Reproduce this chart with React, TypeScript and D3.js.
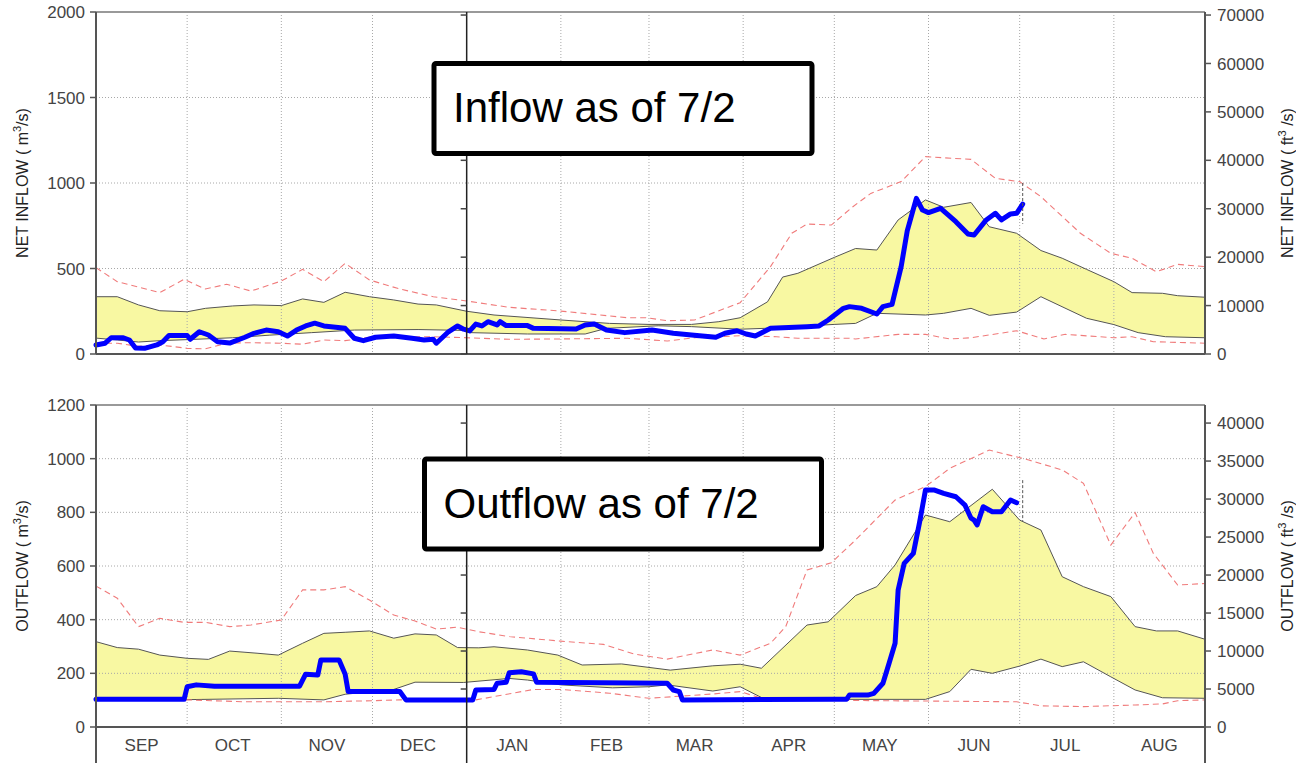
import React from 'react';
import * as d3 from 'd3';

type Pt = [string, number];

const months = ['SEP', 'OCT', 'NOV', 'DEC', 'JAN', 'FEB', 'MAR', 'APR', 'MAY', 'JUN', 'JUL', 'AUG'];
const inflowTicks = [0, 500, 1000, 1500, 2000];
const inflowCfsTicks = [0, 10000, 20000, 30000, 40000, 50000, 60000, 70000];
const outflowTicks = [0, 200, 400, 600, 800, 1000, 1200];
const outflowCfsTicks = [0, 5000, 10000, 15000, 20000, 25000, 30000, 35000, 40000];
const CFS = 35.3147;
const asOf = '07/02';

// NET INFLOW (m3/s)
const inflowUpper: Pt[] = [
  ['09/01', 335], ['09/08', 335], ['09/15', 287], ['09/22', 253], ['10/01', 247], ['10/07', 267],
  ['10/16', 281], ['10/23', 287], ['11/01', 283], ['11/08', 322], ['11/15', 302], ['11/22', 361],
  ['11/30', 335], ['12/08', 316], ['12/16', 292], ['12/22', 287], ['01/01', 250], ['01/10', 228],
  ['02/01', 199], ['02/17', 179], ['03/01', 173], ['03/15', 173], ['03/24', 189], ['03/31', 212],
  ['04/09', 305], ['04/14', 450], ['04/19', 472], ['05/01', 565], ['05/08', 617], ['05/15', 608],
  ['05/22', 784], ['05/31', 901], ['06/06', 858], ['06/15', 886], ['06/21', 744], ['06/30', 706],
  ['07/08', 605], ['07/15', 560], ['07/23', 495], ['08/01', 423], ['08/07', 359], ['08/17', 355],
  ['08/22', 341], ['08/31', 332],
];
const inflowLower: Pt[] = [
  ['09/01', 93], ['09/08', 82], ['09/15', 70], ['09/22', 78], ['10/01', 84], ['10/16', 95],
  ['10/28', 110], ['11/11', 125], ['11/25', 140], ['12/16', 143], ['12/31', 138], ['01/02', 125],
  ['01/21', 117], ['02/09', 117], ['02/16', 150], ['03/04', 165], ['03/15', 160], ['03/31', 145],
  ['04/08', 150], ['05/01', 173], ['05/08', 179], ['05/15', 238], ['05/31', 228], ['06/06', 238],
  ['06/15', 267], ['06/21', 226], ['06/30', 245], ['07/08', 335], ['07/23', 209], ['08/01', 172],
  ['08/09', 125], ['08/18', 101], ['08/31', 95],
];
const inflowMax: Pt[] = [
  ['09/01', 505], ['09/08', 423], ['09/22', 359], ['09/30', 437], ['10/07', 380], ['10/14', 408],
  ['10/22', 368], ['11/01', 427], ['11/08', 495], ['11/15', 423], ['11/22', 530], ['11/30', 433],
  ['12/10', 380], ['12/21', 335], ['01/01', 310], ['01/15', 273], ['02/01', 251], ['02/23', 212],
  ['02/29', 212], ['03/07', 195], ['03/16', 199], ['03/31', 300], ['04/10', 511], ['04/17', 706],
  ['04/22', 760], ['04/30', 754], ['05/07', 860], ['05/13', 939], ['05/23', 1008], ['05/31', 1154],
  ['06/15', 1138], ['06/23', 1027], ['07/01', 1008], ['07/08', 920], ['07/21', 706], ['07/31', 589],
  ['08/07', 560], ['08/15', 481], ['08/22', 524], ['08/31', 511],
];
const inflowMin: Pt[] = [
  ['09/01', 63], ['09/08', 63], ['09/15', 45], ['09/22', 53], ['10/01', 33], ['10/07', 30],
  ['10/14', 63], ['10/21', 66], ['11/01', 63], ['11/08', 57], ['11/15', 82], ['11/22', 78],
  ['11/30', 98], ['12/08', 101], ['12/21', 101], ['01/01', 95], ['01/15', 86], ['02/01', 88],
  ['02/23', 92], ['03/07', 76], ['03/16', 95], ['03/24', 101], ['03/31', 107], ['04/12', 101],
  ['04/19', 92], ['05/06', 92], ['05/08', 88], ['05/22', 115], ['05/31', 115], ['06/08', 88],
  ['06/15', 95], ['06/30', 136], ['07/09', 88], ['07/16', 115], ['08/01', 95], ['08/07', 101],
  ['08/14', 72], ['08/31', 63],
];
const inflowObs: Pt[] = [
  ['09/01', 53], ['09/04', 63], ['09/06', 95], ['09/10', 95], ['09/12', 82], ['09/14', 35],
  ['09/17', 33], ['09/21', 53], ['09/23', 72], ['09/25', 108], ['10/01', 108], ['10/02', 86],
  ['10/05', 130], ['10/08', 111], ['10/11', 72], ['10/15', 64], ['10/20', 98], ['10/23', 121],
  ['10/27', 140], ['10/31', 130], ['11/03', 105], ['11/06', 140], ['11/09', 164], ['11/12', 180],
  ['11/15', 164], ['11/22', 150], ['11/25', 92], ['11/28', 78], ['12/02', 98], ['12/08', 105],
  ['12/14', 92], ['12/18', 82], ['12/21', 86], ['12/22', 63], ['12/26', 130], ['12/29', 164],
  ['12/31', 145], ['01/02', 135], ['01/04', 175], ['01/06', 164], ['01/08', 189], ['01/11', 170],
  ['01/12', 189], ['01/14', 166], ['01/21', 166], ['01/23', 150], ['02/06', 146], ['02/09', 170],
  ['02/12', 175], ['02/16', 140], ['02/22', 125], ['03/02', 140], ['03/09', 121], ['03/15', 111],
  ['03/23', 98], ['03/26', 121], ['03/30', 136], ['04/02', 117], ['04/05', 105], ['04/10', 150],
  ['04/22', 160], ['04/26', 164], ['04/29', 199], ['05/04', 267], ['05/06', 277], ['05/10', 267],
  ['05/15', 234], ['05/17', 277], ['05/20', 290], ['05/23', 511], ['05/25', 720], ['05/28', 910],
  ['05/30', 842], ['06/01', 827], ['06/05', 852], ['06/10', 774], ['06/14', 702], ['06/16', 696],
  ['06/20', 784], ['06/23', 823], ['06/25', 784], ['06/28', 819], ['06/30', 823], ['07/02', 877],
];
const inflowMarker = [1000, 762];

// OUTFLOW (m3/s)
const outflowUpper: Pt[] = [
  ['09/01', 318], ['09/08', 296], ['09/15', 290], ['09/22', 268], ['10/01', 256], ['10/08', 252],
  ['10/15', 283], ['10/24', 275], ['10/31', 268], ['11/08', 312], ['11/15', 349], ['11/22', 353],
  ['11/30', 358], ['12/08', 331], ['12/15', 347], ['12/22', 343], ['12/29', 296], ['01/05', 295],
  ['01/10', 299], ['01/21', 287], ['01/31', 268], ['02/08', 231], ['02/21', 235], ['03/08', 212],
  ['03/22', 228], ['03/31', 234], ['04/07', 219], ['04/22', 380], ['04/29', 392], ['05/08', 490],
  ['05/15', 523], ['05/21', 604], ['05/31', 790], ['06/08', 765], ['06/22', 886], ['07/01', 771],
  ['07/08', 734], ['07/15', 560], ['07/22', 523], ['07/31', 486], ['08/08', 374], ['08/15', 358],
  ['08/22', 358], ['08/31', 327],
];
const outflowLower: Pt[] = [
  ['09/01', 107], ['10/01', 102], ['10/31', 107], ['11/15', 101], ['11/22', 122], ['12/08', 140],
  ['12/15', 167], ['12/31', 166], ['01/15', 181], ['01/21', 175], ['02/01', 157], ['02/18', 146],
  ['03/01', 150], ['03/07', 157], ['03/22', 134], ['03/31', 150], ['04/07', 110], ['04/10', 103],
  ['05/31', 103], ['06/08', 132], ['06/15', 215], ['06/22', 200], ['07/01', 227], ['07/08', 253],
  ['07/15', 225], ['07/22', 243], ['07/31', 187], ['08/08', 138], ['08/17', 109], ['08/31', 107],
];
const outflowMax: Pt[] = [
  ['09/01', 525], ['09/08', 480], ['09/15', 374], ['09/22', 405], ['09/30', 390], ['10/07', 390],
  ['10/15', 374], ['10/22', 380], ['11/01', 399], ['11/08', 511], ['11/15', 511], ['11/22', 523],
  ['11/30', 473], ['12/08', 417], ['12/15', 395], ['12/22', 365], ['12/29', 372], ['01/05', 355],
  ['01/15', 337], ['02/01', 320], ['02/15', 308], ['02/25', 272], ['03/07', 253], ['03/22', 287],
  ['03/31', 268], ['04/10', 312], ['04/15', 374], ['04/22', 585], ['04/30', 612], ['05/08', 697],
  ['05/21', 846], ['05/31', 896], ['06/08', 964], ['06/21', 1032], ['07/04', 995], ['07/15', 958],
  ['07/22', 908], ['07/31', 678], ['08/08', 799], ['08/14', 647], ['08/22', 529], ['08/31', 535],
];
const outflowMin: Pt[] = [
  ['09/01', 101], ['10/01', 101], ['10/20', 94], ['11/15', 94], ['12/01', 98], ['12/10', 101],
  ['01/04', 101], ['01/23', 140], ['02/01', 140], ['02/17', 126], ['03/01', 107], ['03/22', 123],
  ['03/31', 132], ['04/07', 107], ['04/14', 101], ['06/30', 94], ['07/08', 79], ['07/22', 76],
  ['08/08', 82], ['08/17', 86], ['08/22', 98], ['08/31', 101],
];
const outflowObs: Pt[] = [
  ['09/01', 103], ['09/30', 103], ['10/01', 150], ['10/04', 157], ['10/10', 152], ['11/07', 152],
  ['11/09', 197], ['11/13', 194], ['11/14', 250], ['11/20', 250], ['11/22', 197], ['11/23', 132],
  ['12/10', 132], ['12/12', 101], ['01/03', 101], ['01/04', 138], ['01/10', 140], ['01/11', 163],
  ['01/14', 167], ['01/15', 202], ['01/19', 206], ['01/23', 198], ['01/24', 167], ['03/07', 163],
  ['03/09', 138], ['03/11', 132], ['03/12', 101], ['05/01', 103], ['05/05', 103], ['05/06', 119],
  ['05/12', 119], ['05/14', 125], ['05/17', 163], ['05/19', 237], ['05/21', 312], ['05/22', 510],
  ['05/24', 610], ['05/27', 647], ['05/29', 759], ['05/31', 883], ['06/03', 883], ['06/06', 871],
  ['06/10', 858], ['06/13', 827], ['06/15', 778], ['06/16', 771], ['06/17', 753], ['06/19', 821],
  ['06/22', 802], ['06/25', 802], ['06/28', 846], ['06/30', 836],
];
const outflowMarker = [920, 765];

const W = 1296;
const H = 763;
const FONT = '"Liberation Sans", Arial, sans-serif';

// water year Sep 2019 - Aug 2020
const toDate = (s: string) => {
  const [m, d] = s.split('/').map(Number);
  return new Date(m >= 9 ? 2019 : 2020, m - 1, d);
};

const x = d3.scaleTime().domain([new Date(2019, 8, 1), new Date(2020, 7, 31)]).range([96, 1205]);
const L = 96;
const R = 1205;
const MID = x(new Date(2020, 0, 1));

function Panel(props: any) {
  const { y0, y1, max, ticks, cfsTicks, upper, lower, hi, lo, obs, marker, name, note, box, extend, showMonths } = props;
  const y = d3.scaleLinear().domain([0, max]).range([y1, y0]);
  const yc = d3.scaleLinear().domain([0, max * CFS]).range([y1, y0]);
  const line = d3.line<Pt>().x(d => x(toDate(d[0]))).y(d => y(d[1]));
  const band = line([...upper, ...lower.slice().reverse()]) + 'Z';
  const gridX = d3.timeMonth.range(new Date(2019, 9, 1), new Date(2020, 8, 1)).filter(d => d.getMonth() !== 0);
  const vEnd = extend ? H : y1;
  const mid = (y0 + y1) / 2;
  const mx = x(toDate(asOf));

  return (
    <g>
      <path d={band} fill="#f8f8a2" stroke="none" />
      {gridX.map((d, i) => (
        <line key={'gx' + i} x1={x(d)} x2={x(d)} y1={y0} y2={y1} stroke="#a8a8a8" strokeDasharray="1,2" />
      ))}
      {ticks.slice(1, -1).map((t: number) => (
        <line key={'gy' + t} x1={L} x2={R} y1={y(t)} y2={y(t)} stroke="#a8a8a8" strokeDasharray="1,2" />
      ))}
      <path d={line(upper) || ''} fill="none" stroke="#555" strokeWidth={1} />
      <path d={line(lower) || ''} fill="none" stroke="#555" strokeWidth={1} />
      <path d={line(hi) || ''} fill="none" stroke="#f07b7b" strokeWidth={1.1} strokeDasharray="6,4" />
      <path d={line(lo) || ''} fill="none" stroke="#f07b7b" strokeWidth={1.1} strokeDasharray="6,4" />
      <path d={line(obs) || ''} fill="none" stroke="#0000ff" strokeWidth={5} strokeLinejoin="round" strokeLinecap="round" />
      <line x1={mx} x2={mx} y1={y(marker[0])} y2={y(marker[1])} stroke="#555" strokeDasharray="3,2" />

      {/* frame and axes */}
      <line x1={L} x2={R} y1={y0} y2={y0} stroke="#999" strokeWidth={2} />
      <line x1={L} x2={R} y1={y1} y2={y1} stroke="#555" strokeWidth={2} />
      <line x1={L} x2={L} y1={y0} y2={vEnd} stroke="#555" strokeWidth={2} />
      <line x1={R} x2={R} y1={y0} y2={vEnd} stroke="#555" strokeWidth={2} />
      <line x1={MID} x2={MID} y1={y0} y2={vEnd} stroke="#222" strokeWidth={1.5} />

      {ticks.map((t: number) => (
        <g key={'lt' + t}>
          <line x1={L - 6} x2={L} y1={y(t)} y2={y(t)} stroke="#555" strokeWidth={1.5} />
          <text x={L - 11} y={y(t)} dy="0.36em" textAnchor="end" fontSize={17} fill="#444" fontFamily={FONT}>{t}</text>
        </g>
      ))}
      {cfsTicks.map((t: number) => (
        <g key={'rt' + t}>
          <line x1={R} x2={R + 6} y1={yc(t)} y2={yc(t)} stroke="#555" strokeWidth={1.5} />
          <line x1={MID - 6} x2={MID} y1={yc(t)} y2={yc(t)} stroke="#444" strokeWidth={1.5} />
          <text x={R + 12} y={yc(t)} dy="0.36em" textAnchor="start" fontSize={17} fill="#444" fontFamily={FONT}>{t}</text>
        </g>
      ))}

      <text transform={`translate(28,${mid}) rotate(-90)`} textAnchor="middle" fontSize={16} fill="#222" fontFamily={FONT}>
        {name} ( m<tspan dy="-7" fontSize={11}>3</tspan><tspan dy="7">/s)</tspan>
      </text>
      <text transform={`translate(1293,${mid}) rotate(-90)`} textAnchor="middle" fontSize={16} fill="#222" fontFamily={FONT}>
        {name} ( ft<tspan dy="-7" fontSize={11}>3</tspan><tspan dy="7"> /s)</tspan>
      </text>

      {showMonths && months.map((m, i) => (
        <text key={m} x={x(new Date(i < 4 ? 2019 : 2020, (i + 8) % 12, 16))} y={751} textAnchor="middle"
          fontSize={17} fill="#444" fontFamily={FONT}>{m}</text>
      ))}

      <rect x={box[0]} y={box[1]} width={box[2]} height={box[3]} rx={2} fill="#fff" stroke="#000" strokeWidth={5} />
      <text x={box[0] + 19} y={box[1] + box[4]} fontSize={42} fill="#000" fontFamily={FONT}>{note}</text>
    </g>
  );
}

export default function App() {
  return (
    <svg width={W} height={H} style={{ position: 'absolute', left: 0, top: 0, background: '#fff' }}>
      <rect width={W} height={H} fill="#fff" />
      <Panel y0={12} y1={354} max={2000} ticks={inflowTicks} cfsTicks={inflowCfsTicks}
        upper={inflowUpper} lower={inflowLower} hi={inflowMax} lo={inflowMin} obs={inflowObs}
        marker={inflowMarker} name="NET INFLOW" note="Inflow as of 7/2" box={[434, 63.5, 378, 90, 58.5]} />
      <Panel y0={405} y1={727} max={1200} ticks={outflowTicks} cfsTicks={outflowCfsTicks}
        upper={outflowUpper} lower={outflowLower} hi={outflowMax} lo={outflowMin} obs={outflowObs}
        marker={outflowMarker} name="OUTFLOW" note="Outflow as of 7/2" box={[424.5, 459, 397, 90, 59]} extend showMonths />
    </svg>
  );
}
